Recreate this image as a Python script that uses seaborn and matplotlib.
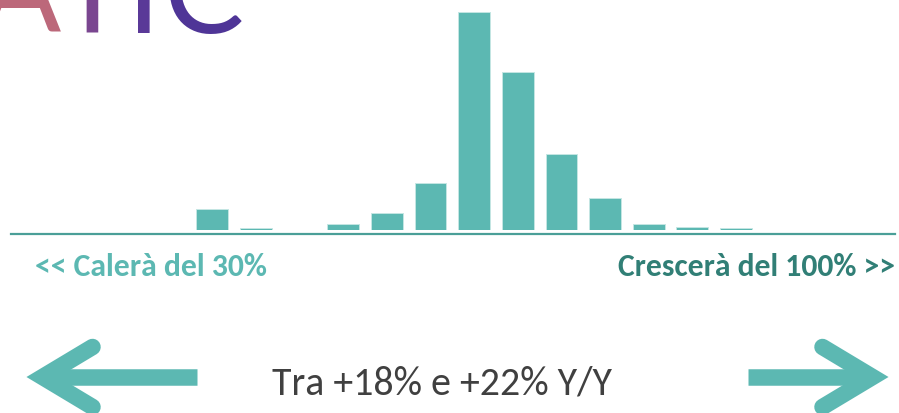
import numpy as np
import pandas as pd
import matplotlib
matplotlib.use("Agg")
import matplotlib.pyplot as plt
import seaborn as sns
from matplotlib import font_manager

# ---- data -------------------------------------------------------------
bins = ["-6/-2%", "-2/+2%", "+2/+6%", "+6/+10%", "+10/+14%", "+14/+18%",
        "+18/+22%", "+22/+26%", "+26/+30%", "+30/+34%", "+34/+38%",
        "+38/+42%", "+42/+46%"]
probability = [3.5, 0.2, 0.0, 0.9, 2.9, 8.0, 37.4, 27.1, 12.9, 5.4, 1.0, 0.5, 0.2]

left_label = "<< Calerà del 30%"
right_label = "Crescerà del 100% >>"
headline = "Tra +18% e +22% Y/Y"
logo_letters = ["A", "T", "I", "C"]
logo_colors = ["#bc687a", "#7a4690", "#5a3998", "#4f3597"]

# ---- style ------------------------------------------------------------
TEAL = "#5cb8b2"
TEAL_LINE = "#4a9f98"
TEAL_DARK = "#317f76"
GREY = "#404040"

sns.set_theme(style="white")
names = {f.name for f in font_manager.fontManager.ttflist}
text_font = next((n for n in ["Carlito", "Lato", "Open Sans"] if n in names),
                 "DejaVu Sans")
plt.rcParams["font.family"] = [text_font, "DejaVu Sans"]

W, H = 899, 413
fig = plt.figure(figsize=(W / 100, H / 100), dpi=100)
fig.patch.set_facecolor("white")

# ---- distribution bars --------------------------------------------------
df = pd.DataFrame({"bin": bins, "probability": probability})
ax = fig.add_axes([11 / W, (H - 229.5) / H, (895 - 11) / W, 229.5 / H])
ax.set_facecolor("none")
sns.barplot(data=df, x="bin", y="probability", order=bins, color=TEAL,
            saturation=1, width=0.727, edgecolor="#c4e6e3", linewidth=0.7,
            ax=ax)
step = 43.65
first_center = 212.2
ax.set_xlim((11 - first_center) / step, (895 - first_center) / step)
ax.set_ylim(0, 37.4 * 229.5 / 217.8)
for side in ("left", "right", "top"):
    ax.spines[side].set_visible(False)
ax.spines["bottom"].set_color(TEAL_LINE)
ax.spines["bottom"].set_linewidth(1.6)
ax.spines["bottom"].set_position(("outward", 3.4))
ax.set_xticks([])
ax.set_yticks([])
ax.set_xlabel("")
ax.set_ylabel("")

# ---- overlay in pixel coordinates --------------------------------------
ov = fig.add_axes([0, 0, 1, 1])
ov.set_facecolor("none")
ov.set_axis_off()
ov.set_xlim(0, W)
ov.set_ylim(0, H)

# logo lettering, cropped by the top edge of the figure
logo_centers = [20, 92, 144, 203]
for ch, cx, col in zip(logo_letters, logo_centers, logo_colors):
    ov.text(cx, H - 33, ch, ha="center", va="baseline", color=col,
            fontsize=120 * 0.72, fontweight="normal",
            family=["Lato", "DejaVu Sans"], clip_on=False)


def fit_text(x, y, s, width, **kw):
    t = ov.text(x, y, s, **kw)
    fig.canvas.draw()
    r = fig.canvas.get_renderer()
    w = t.get_window_extent(r).width
    t.set_fontsize(t.get_fontsize() * width / w)
    return t


fit_text(35, H - 276.5, left_label, 233, ha="left", va="baseline",
         color=TEAL, fontweight="bold", fontsize=18)
fit_text(895, H - 276.5, right_label, 277, ha="right", va="baseline",
         color=TEAL_DARK, fontweight="bold", fontsize=18)
fit_text(442, H - 394.3, headline, 340, ha="center", va="baseline",
         color=GREY, fontsize=30)

# arrows: shaft plus chevron head
lw = 16.5 * 72 / 100
yc = H - 377
ov.plot([55, 197], [yc, yc], color=TEAL, lw=lw, solid_capstyle="butt")
ov.plot([92.5, 42.5, 92.5], [yc + 30, yc, yc - 30], color=TEAL, lw=lw,
        solid_capstyle="round", solid_joinstyle="miter")
ov.plot([748, 860], [yc, yc], color=TEAL, lw=lw, solid_capstyle="butt")
ov.plot([822.5, 872.5, 822.5], [yc + 30, yc, yc - 30], color=TEAL, lw=lw,
        solid_capstyle="round", solid_joinstyle="miter")

ov.set_xlim(0, W)
ov.set_ylim(0, H)

fig.savefig("out.png", dpi=100)
